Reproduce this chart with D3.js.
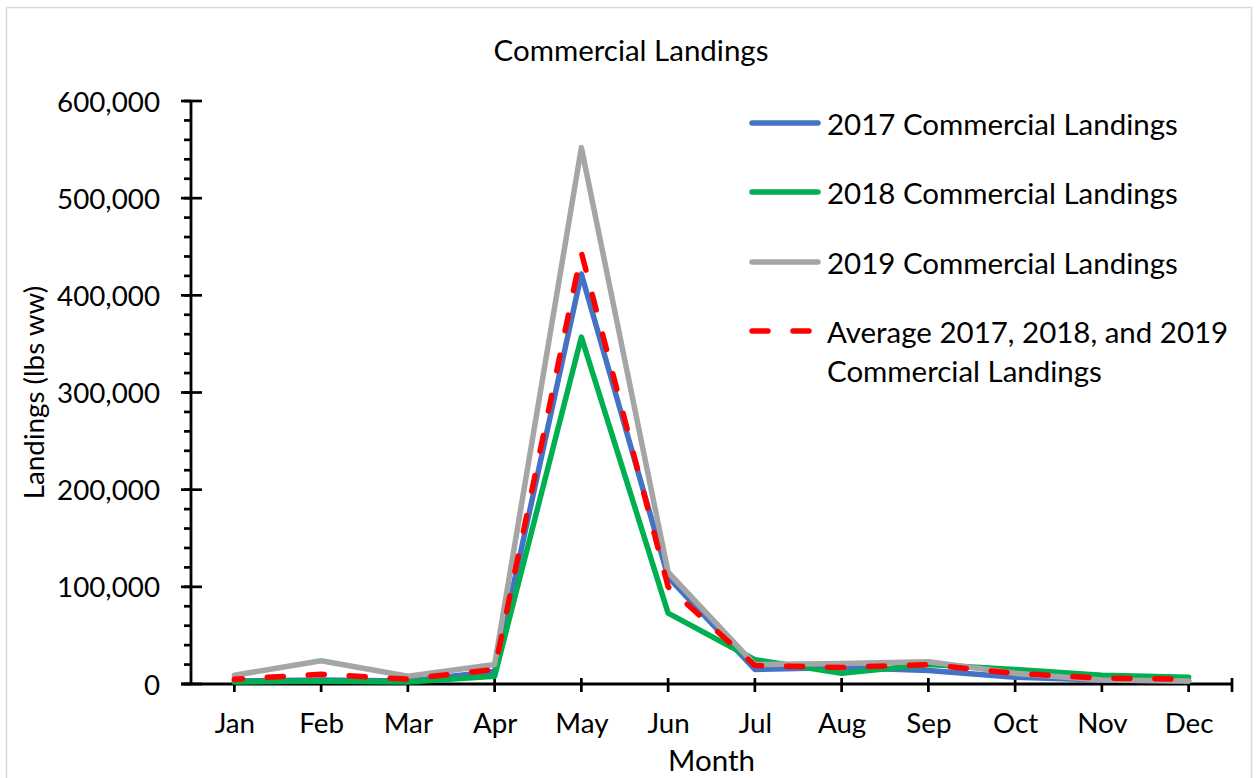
<!DOCTYPE html>
<html>
<head>
<meta charset="utf-8">
<script src="https://cdn.jsdelivr.net/npm/d3@7"></script>
<style>
  html, body { margin: 0; padding: 0; background: #fff; }
  svg { display: block; }
  text { font-family: Lato, "Open Sans", sans-serif; fill: #000; }
</style>
</head>
<body>
<div id="chart"></div>
<script>
// ---------------- data ----------------
const months = ["Jan","Feb","Mar","Apr","May","Jun","Jul","Aug","Sep","Oct","Nov","Dec"];
const landings2017 = [3000, 4000, 3000, 13000, 422000, 110000, 15000, 17000, 14000, 7000, 4000, 3000];
const landings2018 = [2000, 3000, 2000, 8000, 357000, 73000, 25000, 11000, 20000, 15000, 9000, 7000];
const landings2019 = [9000, 24000, 8000, 20000, 552000, 115000, 20000, 21000, 23000, 11000, 4000, 3000];
const landingsAvg  = [5000, 10000, 5000, 15000, 444000, 100000, 19000, 17000, 20000, 11000, 6000, 5000];
const yTickValues = [0, 100000, 200000, 300000, 400000, 500000, 600000];
const seriesNames = ["2017 Commercial Landings", "2018 Commercial Landings", "2019 Commercial Landings", "Average 2017, 2018, and 2019|Commercial Landings"];

const series = [
  { name: seriesNames[0], values: landings2017, color: "#4472C4", dash: null },
  { name: seriesNames[1], values: landings2018, color: "#00B050", dash: null },
  { name: seriesNames[2], values: landings2019, color: "#A5A5A5", dash: null },
  { name: seriesNames[3], values: landingsAvg,  color: "#FF0000", dash: "16,25" }
];

// ---------------- layout ----------------
const W = 1259, H = 778;
const plot = { left: 191, right: 1232, top: 101, bottom: 684 };

const svg = d3.select("#chart").append("svg").attr("width", W).attr("height", H);

function fitSize(str, target) {
  const p = svg.append("text").attr("font-size", 100).text(str);
  const w = p.node().getComputedTextLength();
  p.remove();
  return 100 * target / w;
}
const fs = fitSize("Commercial Landings", 275);
const fsTick = fitSize("600,000", 103);

// chart border
svg.append("rect").attr("x", 6.5).attr("y", 7.5).attr("width", 1245).attr("height", 800)
  .attr("fill", "#fff").attr("stroke", "#d9d9d9").attr("stroke-width", 1.5);

const x = d3.scalePoint().domain(months).range([plot.left, plot.right]).padding(0.5);
const y = d3.scaleLinear().domain([0, 600000]).range([plot.bottom, plot.top]);

// title
svg.append("text").attr("x", 631).attr("y", 49).attr("text-anchor", "middle")
  .attr("dominant-baseline", "central").attr("font-size", fs).text("Commercial Landings");

// y axis
const yAxis = d3.axisLeft(y).tickValues(yTickValues).tickSize(0).tickPadding(31)
  .tickFormat(d3.format(","));
const gy = svg.append("g").attr("transform", `translate(${plot.left},0)`).call(yAxis);
gy.select(".domain").remove();
gy.selectAll("text").attr("font-size", fsTick).attr("font-family", null).attr("dy", "0.36em");

// y minor ticks
const minorTicks = d3.range(0, 600001, 20000);
svg.append("g").selectAll("line").data(minorTicks).join("line")
  .attr("x1", plot.left - 7).attr("x2", plot.left)
  .attr("y1", d => y(d)).attr("y2", d => y(d))
  .attr("stroke", "#000").attr("stroke-width", 2.7);
// y major ticks (cross)
svg.append("g").selectAll("line").data(yTickValues).join("line")
  .attr("x1", plot.left - 10).attr("x2", plot.left + 11)
  .attr("y1", d => y(d)).attr("y2", d => y(d))
  .attr("stroke", "#000").attr("stroke-width", 2.7);

// x axis labels
const xAxis = d3.axisBottom(x).tickSize(0).tickPadding(29);
const gx = svg.append("g").attr("transform", `translate(0,${plot.bottom})`).call(xAxis);
gx.select(".domain").remove();
gx.selectAll("text").attr("font-size", fsTick).attr("font-family", null).attr("dy", "0.71em");

// x ticks (at category points + right end)
const xTickPos = months.map(m => x(m)).concat([plot.right]);
svg.append("g").selectAll("line").data(xTickPos).join("line")
  .attr("x1", d => d).attr("x2", d => d)
  .attr("y1", plot.bottom - 6).attr("y2", plot.bottom + 8)
  .attr("stroke", "#000").attr("stroke-width", 2.7);

// axis lines
svg.append("line").attr("x1", plot.left).attr("x2", plot.left)
  .attr("y1", plot.top).attr("y2", plot.bottom).attr("stroke", "#000").attr("stroke-width", 2.8);
svg.append("line").attr("x1", plot.left - 10).attr("x2", plot.right)
  .attr("y1", plot.bottom).attr("y2", plot.bottom).attr("stroke", "#000").attr("stroke-width", 2.8);

// axis titles
svg.append("text").attr("x", (plot.left + plot.right) / 2).attr("y", 759)
  .attr("text-anchor", "middle").attr("dominant-baseline", "central")
  .attr("font-size", fs).text("Month");
svg.append("text")
  .attr("transform", `translate(33,${(plot.top + plot.bottom) / 2}) rotate(-90)`)
  .attr("text-anchor", "middle").attr("dominant-baseline", "central")
  .attr("font-size", fsTick).text("Landings (lbs ww)");

// lines
const line = d3.line().x((d, i) => x(months[i])).y(d => y(d));
svg.append("g").selectAll("path").data(series).join("path")
  .attr("d", s => line(s.values))
  .attr("fill", "none")
  .attr("stroke", s => s.color)
  .attr("stroke-width", 5.5)
  .attr("stroke-linejoin", "round")
  .attr("stroke-linecap", "round")
  .attr("stroke-dasharray", s => s.dash)
  .attr("stroke-dashoffset", s => s.dash ? 8 : null);

// legend
const legendY = [123, 192, 262, 331];
const lg = svg.append("g").selectAll("g").data(series).join("g")
  .attr("transform", (s, i) => `translate(0,${legendY[i]})`);
lg.append("line").attr("x1", 752).attr("x2", 818).attr("y1", 0).attr("y2", 0)
  .attr("stroke", s => s.color).attr("stroke-width", 5.5)
  .attr("stroke-linecap", "round").attr("stroke-dasharray", s => s.dash);
lg.each(function(s) {
  const parts = s.name.split("|");
  const t = d3.select(this).append("text").attr("x", 827).attr("y", 0)
    .attr("font-size", fs).attr("dominant-baseline", "central");
  parts.forEach((p, j) => {
    t.append("tspan").attr("x", 827).attr("dy", j === 0 ? 0 : 39).text(p);
  });
});
</script>
</body>
</html>
